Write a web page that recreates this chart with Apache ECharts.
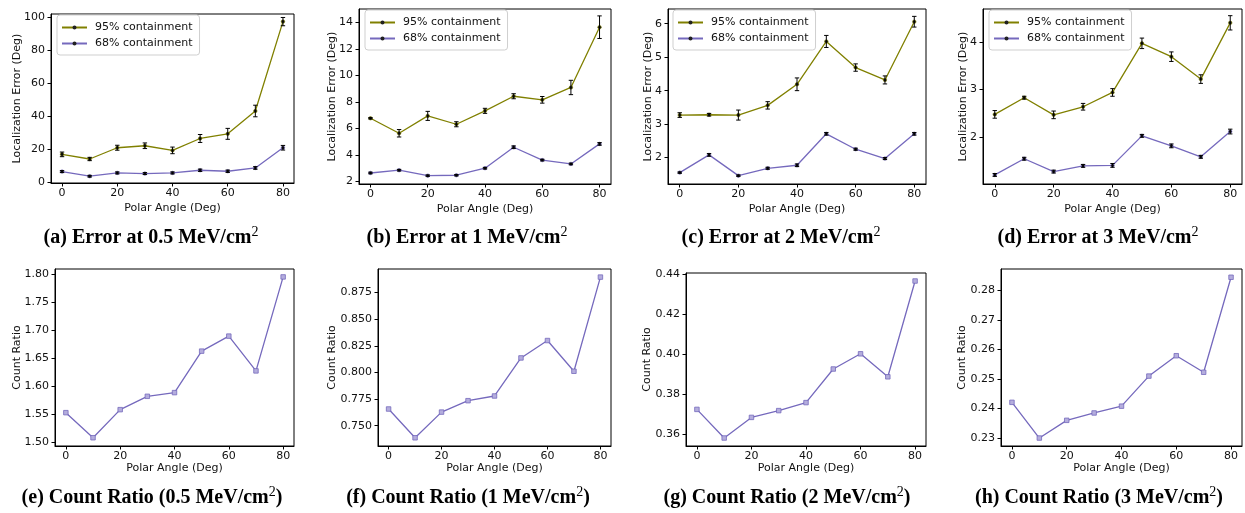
<!DOCTYPE html>
<html><head><meta charset="utf-8">
<script src="https://cdn.jsdelivr.net/npm/echarts@6/dist/echarts.min.js"></script>
<style>html,body{margin:0;padding:0;background:#fff}#c{width:1245px;height:513px}</style>
</head><body><div id="c"></div>
<script>
// ---------- data ----------
const angles = [0, 10, 20, 30, 40, 50, 60, 70, 80];
const xTicks = [0, 20, 40, 60, 80];
const seriesNames = ['95% containment', '68% containment'];

// (a) 0.5 MeV/cm2
const err95_a = [17.0, 14.2, 21.0, 22.2, 19.4, 26.6, 29.4, 43.2, 97.2];
const sd95_a  = [1.4, 1.0, 1.5, 1.7, 2.0, 2.4, 3.3, 3.5, 2.5];
const err68_a = [6.6, 3.8, 5.8, 5.4, 5.8, 7.4, 6.8, 8.8, 21.0];
const sd68_a  = [0.6, 0.5, 0.6, 0.6, 0.6, 0.7, 0.7, 0.8, 1.4];
// (b) 1 MeV/cm2
const err95_b = [6.77, 5.64, 6.95, 6.32, 7.33, 8.43, 8.16, 9.09, 13.63];
const sd95_b  = [0.05, 0.28, 0.34, 0.19, 0.19, 0.19, 0.25, 0.54, 0.85];
const err68_b = [2.65, 2.86, 2.45, 2.48, 3.01, 4.59, 3.62, 3.33, 4.84];
const sd68_b  = [0.06, 0.06, 0.05, 0.05, 0.06, 0.10, 0.06, 0.06, 0.10];
// (c) 2 MeV/cm2
const err95_c = [3.27, 3.28, 3.27, 3.56, 4.19, 5.47, 4.69, 4.32, 6.06];
const sd95_c  = [0.07, 0.04, 0.15, 0.11, 0.19, 0.18, 0.11, 0.12, 0.16];
const err68_c = [1.55, 2.08, 1.46, 1.68, 1.77, 2.71, 2.25, 1.97, 2.71];
const sd68_c  = [0.02, 0.04, 0.02, 0.03, 0.04, 0.04, 0.03, 0.03, 0.04];
// (d) 3 MeV/cm2
const err95_d = [2.48, 2.83, 2.47, 2.64, 2.94, 3.97, 3.69, 3.22, 4.40];
const sd95_d  = [0.08, 0.03, 0.08, 0.07, 0.08, 0.11, 0.10, 0.09, 0.15];
const err68_d = [1.21, 1.55, 1.28, 1.40, 1.41, 2.03, 1.82, 1.59, 2.12];
const sd68_d  = [0.03, 0.03, 0.03, 0.03, 0.04, 0.03, 0.04, 0.03, 0.05];

// (e)-(h) count ratios
const ratio_e = [1.5527, 1.5078, 1.5581, 1.5820, 1.5886, 1.6629, 1.6898, 1.6275, 1.7958];
const ratio_f = [0.7657, 0.7387, 0.7628, 0.7735, 0.7779, 0.8136, 0.8299, 0.8011, 0.8894];
const ratio_g = [0.3726, 0.3583, 0.3686, 0.3720, 0.3760, 0.3928, 0.4004, 0.3889, 0.4368];
const ratio_h = [0.2421, 0.2300, 0.2360, 0.2385, 0.2408, 0.2510, 0.2579, 0.2523, 0.2845];

// tick labels
const yTicks_a = [0, 20, 40, 60, 80, 100];
const yTicks_b = [2, 4, 6, 8, 10, 12, 14];
const yTicks_c = [2, 3, 4, 5, 6];
const yTicks_d = [2, 3, 4];
const yTicks_e = [1.50, 1.55, 1.60, 1.65, 1.70, 1.75, 1.80];
const yTicks_f = [0.750, 0.775, 0.800, 0.825, 0.850, 0.875];
const yTicks_g = [0.36, 0.38, 0.40, 0.42, 0.44];
const yTicks_h = [0.23, 0.24, 0.25, 0.26, 0.27, 0.28];

const captions = [
  ['(a) Error at 0.5 MeV/cm', ''], ['(b) Error at 1 MeV/cm', ''],
  ['(c) Error at 2 MeV/cm', ''], ['(d) Error at 3 MeV/cm', ''],
  ['(e) Count Ratio (0.5 MeV/cm', ')'], ['(f) Count Ratio (1 MeV/cm', ')'],
  ['(g) Count Ratio (2 MeV/cm', ')'], ['(h) Count Ratio (3 MeV/cm', ')']
];
const xName = 'Polar Angle (Deg)';
const yNameErr = 'Localization Error (Deg)';
const yNameRatio = 'Count Ratio';

// ---------- layout / style ----------
const OLIVE = '#808000';
const PURPLE = '#7569bd';
const SQFILL = '#b4addd';
const FONT = 'DejaVu Sans';
const FS = 11;

const panels = [
  {grid:{left:51, top:14, width:243, height:169}, y:[-0.3,101.8], ticks:yTicks_a, dec:0, nameGap:28, xGap:20,
   s95:err95_a, e95:sd95_a, s68:err68_a, e68:sd68_a, legend:{left:57, top:15}, cap:[151,238]},
  {grid:{left:359, top:9, width:252, height:175}, y:[1.82,15.0], ticks:yTicks_b, dec:0, nameGap:21, xGap:20,
   s95:err95_b, e95:sd95_b, s68:err68_b, e68:sd68_b, legend:{left:365, top:10}, cap:[467,238]},
  {grid:{left:668, top:9, width:258, height:175}, y:[1.21,6.44], ticks:yTicks_c, dec:0, nameGap:14, xGap:20,
   s95:err95_c, e95:sd95_c, s68:err68_c, e68:sd68_c, legend:{left:673, top:10}, cap:[781,238]},
  {grid:{left:983, top:9, width:259, height:175}, y:[1.02,4.69], ticks:yTicks_d, dec:0, nameGap:14, xGap:20,
   s95:err95_d, e95:sd95_d, s68:err68_d, e68:sd68_d, legend:{left:989, top:10}, cap:[1098,238]},
  {grid:{left:55, top:269, width:239, height:177}, y:[1.493,1.810], ticks:yTicks_e, dec:2, nameGap:32, xGap:17,
   ratio:ratio_e, cap:[152,498]},
  {grid:{left:378, top:269, width:233, height:177}, y:[0.731,0.897], ticks:yTicks_f, dec:3, nameGap:40, xGap:17,
   ratio:ratio_f, cap:[468,498]},
  {grid:{left:686, top:273, width:240, height:173}, y:[0.3543,0.4408], ticks:yTicks_g, dec:2, nameGap:33, xGap:17,
   ratio:ratio_g, cap:[787,498]},
  {grid:{left:1001, top:269, width:241, height:177}, y:[0.2273,0.2873], ticks:yTicks_h, dec:2, nameGap:33, xGap:17,
   ratio:ratio_h, cap:[1099,498]}
];

const axisCommon = {
  axisLine: {show: true, onZero: false, lineStyle: {color: '#000', width: 1}},
  axisTick: {show: true, inside: false, length: 3.5, lineStyle: {color: '#000', width: 1}},
  splitLine: {show: false},
  nameTextStyle: {fontFamily: FONT, fontSize: FS, color: '#111'}
};

const grids = [], xAxes = [], yAxes = [], series = [], legends = [], graphics = [];

function errRender(params, api) {
  const x = api.value(0), y = api.value(1), d = api.value(2);
  const top = api.coord([x, y + d]);
  const bot = api.coord([x, y - d]);
  const cw = 2.2;
  const st = {stroke: '#000', lineWidth: 1};
  return {type: 'group', children: [
    {type: 'line', shape: {x1: top[0], y1: top[1], x2: bot[0], y2: bot[1]}, style: st},
    {type: 'line', shape: {x1: top[0]-cw, y1: top[1], x2: top[0]+cw, y2: top[1]}, style: st},
    {type: 'line', shape: {x1: bot[0]-cw, y1: bot[1], x2: bot[0]+cw, y2: bot[1]}, style: st}
  ]};
}

panels.forEach((p, i) => {
  grids.push(Object.assign({show: true, borderColor: '#000', borderWidth: 1, backgroundColor: 'transparent'}, p.grid));
  xAxes.push(Object.assign({}, axisCommon, {
    type: 'value', gridIndex: i, min: -4, max: 84,
    name: xName, nameLocation: 'middle', nameGap: p.xGap,
    axisTick: Object.assign({}, axisCommon.axisTick, {customValues: xTicks}),
    axisLabel: {customValues: xTicks, fontFamily: FONT, fontSize: FS, color: '#111', margin: 5}
  }));
  yAxes.push(Object.assign({}, axisCommon, {
    type: 'value', gridIndex: i, min: p.y[0], max: p.y[1],
    name: i < 4 ? yNameErr : yNameRatio, nameLocation: 'middle', nameGap: p.nameGap, nameRotate: 90,
    nameMoveOverlap: false,
    axisTick: Object.assign({}, axisCommon.axisTick, {customValues: p.ticks}),
    axisLabel: {customValues: p.ticks, fontFamily: FONT, fontSize: FS, color: '#111', margin: 6,
                formatter: v => Number(v).toFixed(p.dec)}
  }));
  if (i < 4) {
    const defs = [[seriesNames[0], p.s95, p.e95, OLIVE], [seriesNames[1], p.s68, p.e68, PURPLE]];
    defs.forEach(([nm, vals, sds, col]) => {
      series.push({
        type: 'line', name: nm, xAxisIndex: i, yAxisIndex: i,
        data: angles.map((a, k) => [a, vals[k]]),
        symbol: 'circle', symbolSize: 3.5, showSymbol: true,
        lineStyle: {color: col, width: 1.3}, itemStyle: {color: '#111', borderColor: col, borderWidth: 0.6},
        emphasis: {disabled: true}, animation: false, z: 2
      });
      series.push({
        type: 'custom', name: nm + ' err', xAxisIndex: i, yAxisIndex: i,
        data: angles.map((a, k) => [a, vals[k], sds[k]]),
        renderItem: errRender, animation: false, z: 3, silent: true
      });
    });
    legends.push({
      data: seriesNames, left: p.legend.left, top: p.legend.top, orient: 'vertical',
      itemWidth: 25, itemHeight: 5, itemGap: 3,
      padding: [6, 7, 5, 4], borderColor: '#cfcfcf', borderWidth: 1, borderRadius: 3,
      backgroundColor: 'rgba(255,255,255,0.85)',
      itemStyle: {color: '#222', borderWidth: 0},
      textStyle: {fontFamily: FONT, fontSize: FS, color: '#111', lineHeight: 13, padding: [0, 0, 0, 3]},
      selectedMode: false
    });
  } else {
    series.push({
      type: 'line', name: 'ratio' + i, xAxisIndex: i, yAxisIndex: i,
      data: angles.map((a, k) => [a, p.ratio[k]]),
      symbol: 'rect', symbolSize: 4.5, showSymbol: true,
      lineStyle: {color: PURPLE, width: 1.3},
      itemStyle: {color: SQFILL, borderColor: PURPLE, borderWidth: 0.8},
      emphasis: {disabled: true}, animation: false
    });
  }
  const c = captions[i];
  const supTxt = '{m|' + c[0] + '}{s|2}' + (c[1] ? '{m|' + c[1] + '}' : '');
  graphics.push({
    type: 'text', x: p.cap[0], y: p.cap[1],
    style: {
      text: supTxt, align: 'center', verticalAlign: 'middle',
      rich: {
        m: {fontFamily: 'Liberation Serif', fontWeight: 'bold', fontSize: 20, color: '#111', lineHeight: 26},
        s: {fontFamily: 'Liberation Serif', fontSize: 14, color: '#111', verticalAlign: 'top', lineHeight: 10}
      }
    }
  });
});

const chart = echarts.init(document.getElementById('c'), null, {renderer: 'canvas'});
chart.setOption({
  animation: false,
  backgroundColor: '#fff',
  grid: grids, xAxis: xAxes, yAxis: yAxes, series: series, legend: legends, graphic: graphics
});
</script>
</body></html>
